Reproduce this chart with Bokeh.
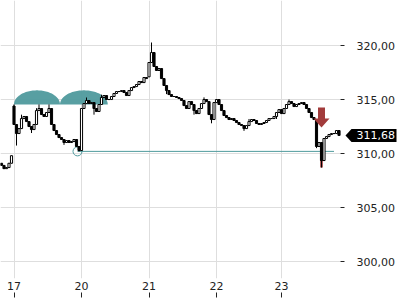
import numpy as np
from bokeh.plotting import figure
from bokeh.models import FixedTicker, LinearAxis, Range1d, Label, PolyAnnotation
from bokeh.embed import file_html
from bokeh.resources import INLINE

# ---------------- data ----------------
day_labels = ["17", "20", "21", "22", "23"]
day_start = [5, 32, 59, 86, 112]

price_ticks = [300, 305, 310, 315, 320]
price_tick_labels = ["300,00", "305,00", "310,00", "315,00", "320,00"]

closes = [
    # 16 (end)
    308.9, 308.6, 308.7, 309.1, 309.8,
    # 17
    312.69, 311.85, 312.31, 313.24, 313.43, 312.96, 312.5, 312.22, 312.69,
    313.98, 314.17, 313.61, 313.43, 313.8, 314.17, 312.69, 312.13, 311.76,
    311.48, 311.3, 311.02, 311.2, 311.02, 311.11, 311.3, 310.65, 310.28,
    # 20
    314.17, 314.63, 314.91, 314.63, 314.72, 314.17, 313.89, 314.54, 315.19,
    315.37, 315.0, 315.0, 315.28, 315.56, 315.74, 315.74, 315.83, 315.65,
    315.37, 315.83, 316.11, 316.2, 316.39, 316.67, 316.57, 317.04, 316.94,
    # 21
    318.43, 319.35, 318.06, 317.69, 317.87, 316.94, 316.3, 315.83, 315.46,
    315.28, 315.28, 315.19, 315.09, 314.91, 314.44, 314.17, 314.81, 314.54,
    313.98, 313.7, 314.17, 314.63, 315.0, 314.81, 313.61, 313.15, 314.72,
    # 22
    315.0, 314.54, 313.98, 313.52, 313.33, 313.15, 313.24, 313.06, 312.87,
    312.69, 312.59, 312.31, 312.59, 312.96, 313.15, 313.06, 312.78, 312.69,
    312.78, 312.87, 313.06, 313.24, 313.24, 313.43, 313.8, 314.07,
    # 23
    313.7, 314.17, 314.54, 314.81, 314.63, 314.35, 314.54, 314.63, 314.72,
    314.54, 314.17, 313.8, 313.33, 313.15, 310.65, 311.02, 309.35, 311.39,
    311.57, 311.76, 311.85, 311.85, 312.13, 311.68,
]
gap_opens = {0: 309.1, 5: 314.4, 59: 317.1}
high_wicks = {5: 314.55, 15: 314.55, 19: 314.55, 34: 315.19, 60: 320.28,
              115: 315.0, 40: 315.45, 81: 315.2, 8: 313.6, 14: 314.2,
              88: 314.3, 99: 313.2, 123: 314.1}
low_wicks = {6: 310.74, 31: 310.19, 37: 313.6, 84: 312.8, 126: 310.5,
             128: 308.7, 110: 313.2, 12: 311.9, 25: 310.8, 97: 312.1,
             77: 313.6, 66: 315.5}

last_price = 311.68
last_label = "311,68"

pattern_start, pattern_mid, pattern_end = 5, 23.4, 42.5
pattern_base, pattern_top = 314.55, 315.85
neck_start, neck_end, neck_price = 30.4, 133, 310.2
signal_idx, signal_top, signal_head, signal_tip = 128, 314.26, 313.24, 312.41
signal_wick_top = 310.6

# layout constants (data-x of the price scale and of the tag)
X_MIN, X_MAX = -0.4, 159.6          # frame spans the whole canvas width
AXIS_X = 135.6                      # where the price scale sits
TAG_TIP, TAG_BODY, TAG_RIGHT = 137.6, 140.0, 158.0
TAG_HALF = 0.6

# ---------------- derived candle values ----------------
n = len(closes)
idx = np.arange(n)
opens = [gap_opens.get(i, closes[i - 1] if i > 0 else closes[0]) for i in range(n)]
highs = [max(opens[i], closes[i], high_wicks.get(i, -1e9)) for i in range(n)]
lows = [min(opens[i], closes[i], low_wicks.get(i, 1e9)) for i in range(n)]
inc = [i for i in range(n) if closes[i] >= opens[i]]
dec = [i for i in range(n) if closes[i] < opens[i]]

TEAL = "#4f9a9d"
RED = "#a23b3b"
GRID = "#dedede"
FONT = "DejaVu Sans"
Y0, Y1 = 298.43, 324.17

p = figure(width=400, height=300, output_backend="svg", toolbar_location=None,
           x_range=Range1d(X_MIN, X_MAX), y_range=Range1d(Y0, Y1),
           y_axis_location=None, min_border_left=0, min_border_top=0,
           min_border_right=0, min_border_bottom=22)
p.outline_line_color = None
p.background_fill_color = "white"
p.border_fill_color = "white"

# grids
p.xgrid.ticker = FixedTicker(ticks=day_start)
p.ygrid.ticker = FixedTicker(ticks=price_ticks)
p.xgrid.grid_line_color = GRID
p.ygrid.grid_line_color = GRID

# blank margin for the price scale (hides grid lines there)
p.quad(left=[AXIS_X], right=[X_MAX], bottom=[Y0], top=[Y1],
       fill_color="white", line_color=None)

# price axis drawn inside the frame, at its right margin
ya = LinearAxis(ticker=FixedTicker(ticks=price_ticks), fixed_location=AXIS_X)
ya.major_label_overrides = dict(zip(price_ticks, price_tick_labels))
ya.axis_line_color = None
ya.major_tick_in = 0
ya.major_tick_out = 4
ya.major_tick_line_color = "#222222"
ya.minor_tick_line_color = None
ya.major_label_standoff = 12
ya.major_label_text_font = FONT
ya.major_label_text_font_size = "11px"
ya.major_label_text_color = "#222222"
p.add_layout(ya, "right")

# x axis: labels, then tick marks beneath
xa = p.xaxis[0]
xa.ticker = FixedTicker(ticks=day_start)
xa.major_label_overrides = dict(zip(day_start, day_labels))
xa.axis_line_color = None
xa.major_tick_in = 0
xa.major_tick_out = 0
xa.minor_tick_line_color = None
xa.major_label_standoff = 3
xa.major_label_text_font = FONT
xa.major_label_text_font_size = "11px"
xa.major_label_text_color = "#222222"

xa2 = LinearAxis(ticker=FixedTicker(ticks=day_start))
xa2.major_label_overrides = {d: "" for d in day_start}
xa2.axis_line_color = None
xa2.major_tick_in = 0
xa2.major_tick_out = 5
xa2.major_tick_line_color = "#222222"
xa2.minor_tick_line_color = None
xa2.major_label_standoff = 0
xa2.major_label_text_font_size = "1px"
p.add_layout(xa2, "below")

# double top pattern (two arches)
for a, b in [(pattern_start, pattern_mid), (pattern_mid, pattern_end)]:
    t = np.linspace(0, np.pi, 60)
    cx, rx = (a + b) / 2, (b - a) / 2
    xs = list(cx - rx * np.cos(t))
    ys = list(pattern_base + (pattern_top - pattern_base) * np.sin(t))
    p.patch(xs, ys, fill_color=TEAL, line_color=None, fill_alpha=0.95)

# neckline + circle
p.line([neck_start, neck_end], [neck_price, neck_price], line_color=TEAL, line_width=1)
p.scatter([neck_start], [neck_price], marker="circle", size=9, fill_color=None,
          line_color=TEAL, line_width=1)

# signal red wick
p.segment([signal_idx], [signal_wick_top], [signal_idx], [lows[signal_idx]],
          line_color=RED, line_width=3, line_alpha=0.8)

# candles
p.segment(idx, highs, idx, lows, line_color="black", line_width=1)
p.vbar(x=inc, top=[closes[i] for i in inc], bottom=[opens[i] for i in inc],
       width=0.85, fill_color="white", line_color="black", line_width=1)
p.vbar(x=dec, top=[opens[i] for i in dec], bottom=[closes[i] for i in dec],
       width=0.85, fill_color="black", line_color="black", line_width=1)

# red down arrow
sw, hw = 1.4, 3.2
p.patch([signal_idx - sw, signal_idx + sw, signal_idx + sw, signal_idx + hw,
         signal_idx, signal_idx - hw, signal_idx - sw],
        [signal_top, signal_top, signal_head, signal_head, signal_tip, signal_head, signal_head],
        fill_color=RED, line_color=None)

# last price tag
tag = PolyAnnotation(xs=[TAG_TIP, TAG_BODY, TAG_RIGHT, TAG_RIGHT, TAG_BODY],
                     ys=[last_price, last_price + TAG_HALF, last_price + TAG_HALF,
                         last_price - TAG_HALF, last_price - TAG_HALF],
                     fill_color="black", fill_alpha=1, line_color=None)
p.add_layout(tag)
lab = Label(x=TAG_RIGHT - 0.6, y=last_price, text=last_label,
            text_color="white", text_font=FONT, text_font_size="11px",
            text_baseline="middle", text_align="right")
p.add_layout(lab)

open("out.html", "w").write(file_html(p, INLINE))
